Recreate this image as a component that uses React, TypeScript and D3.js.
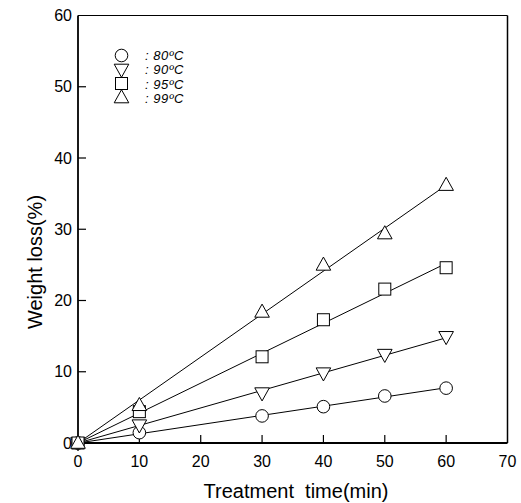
import React from "react";
import * as d3 from "d3";

const times = [0, 10, 30, 40, 50, 60];
const temps = ["80ºC", "90ºC", "95ºC", "99ºC"];
const symbols = ["circle", "down", "square", "up"];
const loss80 = [0, 1.45, 3.8, 5.1, 6.6, 7.7];
const loss90 = [0, 2.5, 7.0, 9.8, 12.4, 14.9];
const loss95 = [0, 4.4, 12.1, 17.3, 21.6, 24.6];
const loss99 = [0, 5.3, 18.4, 25.0, 29.4, 36.2];
const series = [loss80, loss90, loss95, loss99];
const xTicks = [0, 10, 20, 30, 40, 50, 60, 70];
const yTicks = [0, 10, 20, 30, 40, 50, 60];

const W = 521, H = 503;
const L = 78, R = 507.5, T = 15.5, B = 443;

function Marker({ kind, x, y }: { kind: string; x: number; y: number }) {
  const s = 6.3;
  const common = { fill: "white", stroke: "black", strokeWidth: 1 };
  if (kind === "circle") return <circle cx={x} cy={y} r={s} {...common} />;
  if (kind === "square") return <rect x={x - s + 0.3} y={y - s + 0.3} width={2 * s - 0.6} height={2 * s - 0.6} {...common} />;
  if (kind === "up")
    return <path d={`M${x},${y - s - 1.5}L${x + s + 1},${y + s - 1}L${x - s - 1},${y + s - 1}Z`} {...common} />;
  return <path d={`M${x},${y + s + 1.5}L${x + s + 1},${y - s + 1}L${x - s - 1},${y - s + 1}Z`} {...common} />;
}

export default function App() {
  const x = d3.scaleLinear().domain([0, 70]).range([L, R]);
  const y = d3.scaleLinear().domain([0, 60]).range([B, T]);
  const font = "'Liberation Sans', Arial, sans-serif";

  const fits = series.map((vals) => {
    let sxy = 0, sxx = 0;
    times.forEach((t, i) => { sxy += t * vals[i]; sxx += t * t; });
    return sxy / sxx;
  });
  const line = d3.line<[number, number]>().x((d) => x(d[0])).y((d) => y(d[1]));

  return (
    <svg width={W} height={H} style={{ position: "absolute", left: 0, top: 0, background: "white" }} fontFamily={font}>
      <rect x={0} y={0} width={W} height={H} fill="white" />
      <line x1={L} x2={R} y1={T} y2={T} stroke="black" strokeWidth={1} />
      <line x1={R} x2={R} y1={T} y2={B} stroke="black" strokeWidth={1.5} />
      <line x1={L} x2={L} y1={T} y2={B} stroke="black" strokeWidth={1.8} />
      <line x1={L} x2={R} y1={B} y2={B} stroke="black" strokeWidth={1.8} />
      {xTicks.map((t) => (
        <g key={"x" + t}>
          {t > 0 && t < 70 && <line x1={x(t)} x2={x(t)} y1={B} y2={B - 8} stroke="black" strokeWidth={1.2} />}
          <text x={x(t)} y={B + 24} textAnchor="middle" fontSize={16}>{t}</text>
        </g>
      ))}
      {yTicks.map((t) => (
        <g key={"y" + t}>
          {t > 0 && t < 60 && <line x1={L} x2={L + 8} y1={y(t)} y2={y(t)} stroke="black" strokeWidth={1.2} />}
          <text x={L - 6} y={y(t) + 5.5} textAnchor="end" fontSize={16}>{t}</text>
        </g>
      ))}
      <text x={296} y={498} textAnchor="middle" fontSize={20} style={{ whiteSpace: "pre" }}>{"Treatment  time(min)"}</text>
      <text transform={`translate(42,${262}) rotate(-90)`} textAnchor="middle" fontSize={20}>Weight loss(%)</text>

      {fits.map((k, i) => (
        <path key={"l" + i} d={line([[0, 0], [60, k * 60]]) || ""} fill="none" stroke="black" strokeWidth={1} />
      ))}
      {series.map((vals, i) =>
        vals.map((v, j) => <Marker key={i + "-" + j} kind={symbols[i]} x={x(times[j])} y={y(v)} />)
      )}

      {temps.map((tmp, i) => (
        <g key={"lg" + i}>
          <Marker kind={symbols[i]} x={121.5} y={55.5 + i * 14} />
          <text x={145} y={59.5 + i * 14.5} fontSize={13} letterSpacing={0.5} fontStyle="italic">: {tmp}</text>
        </g>
      ))}
    </svg>
  );
}
